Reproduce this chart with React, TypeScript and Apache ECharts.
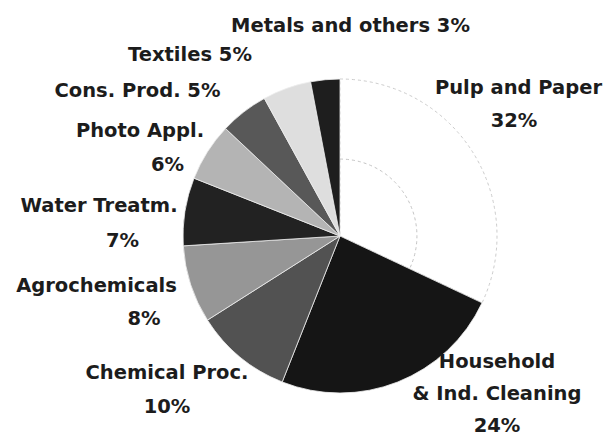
import React, { useEffect, useRef } from "react";
import * as echarts from "echarts";

// ---- data ----
const CATEGORIES = [
  "Pulp and Paper",
  "Household\n& Ind. Cleaning",
  "Chemical Proc.",
  "Agrochemicals",
  "Water Treatm.",
  "Photo Appl.",
  "Cons. Prod.",
  "Textiles",
  "Metals and others",
];
const SHARES = [32, 24, 10, 8, 7, 6, 5, 5, 3];
const INLINE_PERCENT = [false, false, false, false, false, false, true, true, true];

// ---- styles / layout ----
const COLORS = [
  "#ffffff",
  "#151515",
  "#525252",
  "#969696",
  "#222222",
  "#b4b4b4",
  "#585858",
  "#dedede",
  "#1e1e1e",
];
const CENTER: [number, number] = [340, 236];
const RADIUS = 157;
const LABEL_ANCHORS: [number, number][] = [
  [518.5, 104],
  [497, 393],
  [167, 389],
  [96.5, 301.5],
  [99, 222.5],
  [140, 147],
  [137.5, 90],
  [190, 54.5],
  [350.5, 25],
];
const PCT_SHIFT = [-4.5, 0, 0, 47.5, 23.5, 27.5, 0, 0, 0];
const LINE_HEIGHTS = [33, 32, 34, 33, 35, 34, 34, 34, 34];

const FONT = {
  fontFamily: "DejaVu Sans",
  fontWeight: "bold" as const,
  fontSize: 19.5,
  color: "#1c1c1c",
};

export default function App() {
  const ref = useRef<HTMLDivElement>(null);
  useEffect(() => {
    if (!ref.current) return;
    const chart = echarts.init(ref.current, null, { renderer: "svg" });
    const total = SHARES.reduce((a, b) => a + b, 0);

    const rich: Record<string, any> = {};
    PCT_SHIFT.forEach((s, i) => {
      rich["t" + i] = { ...FONT, lineHeight: LINE_HEIGHTS[i] };
      rich["p" + i] = {
        ...FONT,
        lineHeight: LINE_HEIGHTS[i],
        padding: s >= 0 ? [0, 0, 0, 2 * s] : [0, -2 * s, 0, 0],
      };
    });

    chart.setOption({
      animation: false,
      backgroundColor: "#ffffff",
      graphic: [
        {
          type: "arc",
          silent: true,
          z: 100,
          shape: {
            cx: CENTER[0],
            cy: CENTER[1],
            r: RADIUS * 0.49,
            startAngle: -Math.PI / 2,
            endAngle: -Math.PI / 2 + (2 * Math.PI * SHARES[0]) / total,
            clockwise: true,
          },
          style: { stroke: "#c4c4c4", lineWidth: 1, lineDash: [3, 3], fill: null },
        },
      ],
      series: [
        {
          type: "pie",
          center: CENTER,
          radius: RADIUS,
          startAngle: 90,
          clockwise: true,
          avoidLabelOverlap: false,
          data: CATEGORIES.map((name, i) => ({
            name,
            value: SHARES[i],
            itemStyle:
              i === 0
                ? { color: COLORS[i], borderColor: "#cccccc", borderWidth: 1, borderType: [3, 3] }
                : { color: COLORS[i], borderColor: "#eeeeee", borderWidth: 0.8 },
          })),
          label: {
            show: true,
            position: "outside",
            ...FONT,
            lineHeight: 34,
            rich,
            formatter: (p: any) => {
              const i = p.dataIndex;
              const pct = `${SHARES[i]}%`;
              if (INLINE_PERCENT[i]) return `{t${i}|${CATEGORIES[i]} ${pct}}`;
              const lines = CATEGORIES[i].split("\n").map((l) => `{t${i}|${l}}`);
              return lines.join("\n") + `\n{p${i}|${pct}}`;
            },
          },
          labelLine: { show: false },
          labelLayout: (params: any) => {
            const i = params.dataIndex;
            return {
              x: LABEL_ANCHORS[i][0],
              y: LABEL_ANCHORS[i][1],
              align: "center",
              verticalAlign: "middle",
              hideOverlap: false,
            };
          },
          emphasis: { disabled: true },
        },
      ],
    });
    return () => chart.dispose();
  }, []);
  return (
    <div
      ref={ref}
      style={{ position: "fixed", left: 0, top: 0, width: 607, height: 438, background: "#fff" }}
    />
  );
}
